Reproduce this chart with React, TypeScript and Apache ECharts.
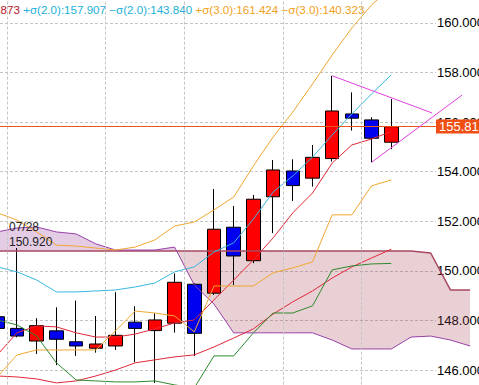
import React, { useEffect, useRef } from "react";
import * as echarts from "echarts";

// Weekly candles (index 0..20), plus 4 future slots for the cloud
const dates = ["07/21", "07/28", "08/04", "08/11", "08/18", "08/25", "09/01", "09/08", "09/15", "09/22", "09/29", "10/06", "10/13", "10/20", "10/27", "11/03", "11/10", "11/17", "11/24", "12/01", "12/08", "12/15", "12/22", "12/29", "01/05"];
const opens = [148.15, 147.68, 147.17, 147.58, 147.14, 146.88, 146.97, 147.93, 147.59, 147.89, 149.46, 149.10, 151.76, 150.41, 152.99, 154.03, 153.74, 154.53, 156.33, 156.09, 155.19];
const closes = [147.68, 147.37, 147.79, 147.24, 146.97, 147.05, 147.40, 147.68, 148.02, 149.54, 147.48, 151.68, 150.60, 152.89, 154.07, 153.44, 154.58, 156.45, 156.16, 155.35, 155.817];
const lows = [147.55, 147.32, 146.65, 146.20, 146.57, 146.70, 146.81, 146.31, 145.48, 147.51, 146.57, 149.03, 149.43, 150.31, 151.52, 152.82, 153.40, 154.41, 155.66, 154.38, 154.91];
const highs = [148.30, 150.92, 148.09, 148.53, 148.80, 148.18, 149.14, 148.58, 148.29, 149.90, 149.50, 153.30, 152.62, 153.06, 154.47, 154.50, 155.08, 157.87, 157.20, 156.20, 156.93];

const bbUp3 = [152.34, 152.05, 151.57, 151.04, 151.00, 150.92, 150.84, 150.96, 151.25, 151.81, 151.97, 152.46, 152.98, 154.23, 155.40, 156.41, 157.54, 158.71, 159.80, 160.73, 161.424];
const bbUp2 = [150.16, 149.96, 149.63, 149.15, 149.15, 149.19, 149.23, 149.35, 149.51, 149.96, 150.16, 150.76, 151.13, 152.09, 153.18, 153.83, 154.59, 155.48, 156.33, 157.14, 157.907];
const bbMid = [145.76, 145.72, 145.64, 145.48, 145.56, 145.76, 146.00, 146.29, 146.41, 146.53, 146.61, 146.93, 147.29, 147.66, 148.26, 148.75, 149.19, 149.71, 150.16, 150.52, 150.873];
const ma5 = [146.61, 147.50, 147.78, 147.74, 147.50, 147.33, 147.33, 147.45, 147.66, 147.90, 148.02, 148.83, 149.63, 150.44, 151.33, 152.34, 153.14, 154.35, 155.08, 155.32, 155.62];
const tenkan = [145.72, 146.61, 146.81, 146.81, 146.81, 146.81, 147.58, 148.38, 148.30, 148.18, 147.54, 149.39, 149.39, 149.39, 149.92, 150.12, 150.36, 152.26, 152.26, 153.43, 153.67];
const kijun = [148.02, 147.82, 147.37, 146.29, 145.60, 145.56, 145.52, 145.52, 145.56, 145.40, 145.28, 146.57, 146.57, 147.50, 148.30, 148.30, 148.59, 150.04, 150.20, 150.28, 150.30];
const spanA = [151.57, 151.73, 151.77, 151.57, 151.49, 151.09, 150.84, 150.84, 150.84, 150.96, 149.43, 148.66, 147.50, 147.50, 147.50, 147.50, 147.50, 147.21, 146.85, 146.85, 146.85, 147.33, 147.37, 147.21, 146.97];
const spanB = [150.80, 150.80, 150.80, 150.80, 150.80, 150.80, 150.80, 150.80, 150.80, 150.80, 150.80, 150.80, 150.80, 150.80, 150.80, 150.80, 150.80, 150.80, 150.80, 150.80, 150.80, 150.80, 150.72, 149.23, 149.23];

// first week of each month (vertical separators drawn before these)
const monthStartIdx = [1, 6, 10, 15, 19];
// hand-drawn triangle trend lines [index, price]
const trendUpper = [[17, 157.87], [22.07, 156.37]];
const trendLower = [[19, 154.38], [23.59, 157.09]];

const legendTexts = { mid: "150.873", up2: "+σ(2.0):157.907", dn2: "−σ(2.0):143.840", up3: "+σ(3.0):161.424", dn3: "−σ(3.0):140.323" };
const markIdx = 1;

const FONT = "Liberation Sans";

function cloudPolygons() {
  const polys: { sign: number; pts: number[][] }[] = [];
  let top: number[][] = [];
  let bot: number[][] = [];
  let sign: number | null = null;
  for (let i = 0; i < spanA.length; i++) {
    const d = spanA[i] - spanB[i];
    const s = d >= 0 ? 1 : -1;
    if (sign === null) {
      sign = s;
    } else if (s !== sign) {
      const dp = spanA[i - 1] - spanB[i - 1];
      const t = dp / (dp - d);
      const x = i - 1 + t;
      const y = spanA[i - 1] + t * (spanA[i] - spanA[i - 1]);
      top.push([x, y]);
      polys.push({ sign, pts: [...top, ...bot.slice().reverse()] });
      top = [[x, y]];
      bot = [[x, y]];
      sign = s;
    }
    top.push([i, spanA[i]]);
    bot.push([i, spanB[i]]);
  }
  polys.push({ sign: sign as number, pts: [...top, ...bot.slice().reverse()] });
  return polys;
}

export default function App() {
  const ref = useRef<HTMLDivElement>(null);
  useEffect(() => {
    if (!ref.current) return;
    const chart = echarts.init(ref.current, null, { renderer: "svg" });
    const X_MIN = 0.137, X_MAX = 24.452;
    const Y_MIN = 144, Y_MAX = 162;
    const gTop = -26.6, gBottom = -34.6;
    const line = (name: string, data: number[], color: string, width = 1) => ({
      name,
      type: "line",
      xAxisIndex: 0,
      yAxisIndex: 0,
      data: data.map((v, i) => [i, v]),
      showSymbol: false,
      symbol: "none",
      lineStyle: { color, width },
      z: 4,
      silent: true,
    });
    const last = closes[closes.length - 1];
    const LEG = 11.6;
    const rs = (fill: string) => ({ fill, fontSize: LEG, fontFamily: FONT });
    const option: any = {
      animation: false,
      backgroundColor: "#ffffff",
      grid: [
        { left: 0, right: 0, top: gTop, bottom: gBottom, containLabel: false, outerBoundsMode: "none" },
        { left: 0, right: 43, top: gTop, bottom: gBottom, containLabel: false, outerBoundsMode: "none" },
      ],
      xAxis: [
        { type: "value", gridIndex: 0, min: X_MIN, max: X_MAX, show: false },
        { type: "value", gridIndex: 1, min: 0, max: 1, show: false },
      ],
      yAxis: [
        { type: "value", gridIndex: 0, min: Y_MIN, max: Y_MAX, interval: 2, show: false },
        {
          type: "value", gridIndex: 1, min: Y_MIN, max: Y_MAX, interval: 2, position: "right",
          axisLine: { show: false }, axisTick: { show: false },
          axisLabel: { margin: 1, fontSize: 13, color: "#000", fontFamily: FONT, formatter: (v: number) => v.toFixed(3) },
          splitLine: { show: true, lineStyle: { type: [3, 2], color: "#c4c4c4", width: 1 } },
        },
      ],
      graphic: [
        {
          type: "text", x: -22, y: 3, silent: true,
          style: {
            text: `{r|${legendTexts.mid}} {c|${legendTexts.up2}} {c|${legendTexts.dn2}} {o|${legendTexts.up3}} {o|${legendTexts.dn3}}`,
            fontSize: LEG,
            fontFamily: FONT,
            fill: "#22b0d8",
            rich: {
              r: rs("#b8142a"),
              c: rs("#22b0d8"),
              o: rs("#f0a020"),
            },
          },
        },
      ],
      series: [
        {
          name: "monthSep", type: "line", xAxisIndex: 0, yAxisIndex: 0,
          data: [[0, 150]], symbol: "none", lineStyle: { width: 0 }, z: 1, silent: true,
          markLine: {
            silent: true, symbol: "none", label: { show: false },
            lineStyle: { type: [3, 2], color: "#c4c4c4", width: 1 },
            data: monthStartIdx.map((i) => ({ xAxis: i - 0.5 })),
          },
        },
        {
          name: "cloud", type: "custom", xAxisIndex: 0, yAxisIndex: 0, silent: true, z: 1,
          data: [[0, 150]],
          encode: { x: 0, y: 1 },
          renderItem: (params: any, api: any) => {
            const polys = cloudPolygons();
            return {
              type: "group",
              children: polys.map((p) => ({
                type: "polygon",
                shape: { points: p.pts.map((pt) => api.coord(pt)) },
                style: { fill: p.sign > 0 ? "rgba(150,60,150,0.26)" : "rgba(165,60,75,0.24)", stroke: "none" },
              })),
            };
          },
        },
        {
          name: "price", type: "candlestick", xAxisIndex: 0, yAxisIndex: 0, z: 3, silent: true,
          barWidth: 14,
          data: opens.map((o, i) => [i, o, closes[i], lows[i], highs[i]]),
          encode: { x: 0, y: [1, 2, 3, 4] },
          itemStyle: { color: "#ff0000", color0: "#0000f0", borderColor: "#000", borderColor0: "#000", borderWidth: 1 },
          markPoint: {
            silent: true, symbol: "circle", symbolSize: 0,
            data: [{ coord: [markIdx, highs[markIdx]] }],
            label: {
              show: true, position: [-8, -29], align: "left", verticalAlign: "top",
              formatter: `${dates[markIdx]}\n${highs[markIdx].toFixed(3)}`,
              color: "#222", fontSize: 12, lineHeight: 15, fontFamily: FONT,
            },
          },
        },
        line("spanB", spanB, "#a84860", 1.5),
        line("spanA", spanA, "#9a40a8", 1),
        line("+3σ", bbUp3, "#f0a830", 1),
        line("+2σ", bbUp2, "#38b8e0", 1),
        line("mid", bbMid, "#e02838", 1),
        line("ma5", ma5, "#e02838", 1),
        line("tenkan", tenkan, "#f0a830", 1),
        line("kijun", kijun, "#2f8a2f", 1),
        {
          name: "trendU", type: "line", xAxisIndex: 0, yAxisIndex: 0, data: trendUpper,
          symbol: "none", lineStyle: { color: "#e040e0", width: 1 }, z: 5, silent: true,
        },
        {
          name: "trendL", type: "line", xAxisIndex: 0, yAxisIndex: 0, data: trendLower,
          symbol: "none", lineStyle: { color: "#e040e0", width: 1 }, z: 5, silent: true,
        },
        {
          name: "last", type: "line", xAxisIndex: 1, yAxisIndex: 1, data: [[0, last]],
          symbol: "none", lineStyle: { width: 0 }, z: 6, silent: true,
          markLine: {
            silent: true, symbol: "none",
            lineStyle: { color: "#e8561c", width: 1, type: "solid" },
            data: [{ yAxis: last }],
            label: {
              show: true, position: "end", distance: 0,
              formatter: last.toFixed(3),
              color: "#fff", backgroundColor: "#f04f14", padding: [1, 3, 0, 3],
              fontSize: 13, lineHeight: 13, fontFamily: FONT,
            },
          },
        },
      ],
    };
    chart.setOption(option);
    return () => chart.dispose();
  }, []);
  return <div ref={ref} style={{ position: "fixed", left: 0, top: 0, width: 479, height: 385 }} />;
}
